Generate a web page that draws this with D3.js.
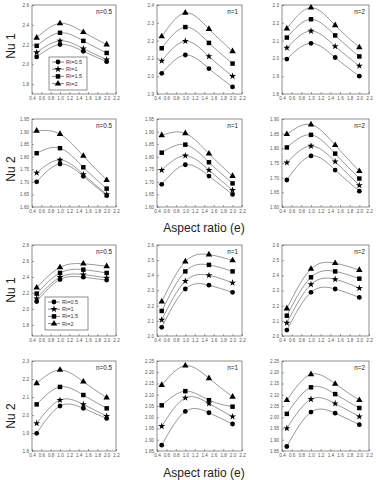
<!DOCTYPE html>
<html><head><meta charset="utf-8">
<script src="https://cdn.jsdelivr.net/npm/d3@7"></script>
<style>body{margin:0;background:#fff}svg{display:block}</style>
</head><body><svg id="c" width="376" height="480"></svg>
<script>
// ---------- data ----------
const aspectRatio = [0.5, 1.0, 1.5, 2.0];
const riLabels = ["Ri=0.5", "Ri=1", "Ri=1.5", "Ri=2"];
const nLabels = ["n=0.5", "n=1", "n=2"];
const rowLabels = ["Nu 1", "Nu 2", "Nu 1", "Nu 2"];
const xTitle = "Aspect ratio (e)";
const xTicks = [0.4, 0.6, 0.8, 1.0, 1.2, 1.4, 1.6, 1.8, 2.0, 2.2];
const xDomain = [0.4, 2.2];

// series order inside each panel: Ri=0.5, Ri=1, Ri=1.5, Ri=2
const nu1A_n05 = [[2.075, 2.200, 2.132, 2.027], [2.120, 2.237, 2.159, 2.047], [2.187, 2.319, 2.237, 2.115], [2.268, 2.414, 2.325, 2.200]];
const nu1A_n1  = [[2.016, 2.119, 2.043, 1.940], [2.086, 2.197, 2.111, 2.000], [2.157, 2.276, 2.187, 2.071], [2.223, 2.356, 2.265, 2.140]];
const nu1A_n2  = [[1.996, 2.085, 2.005, 1.900], [2.059, 2.154, 2.068, 1.958], [2.117, 2.220, 2.129, 2.011], [2.167, 2.285, 2.186, 2.062]];
const nu2A_n05 = [[1.700, 1.771, 1.722, 1.645], [1.736, 1.787, 1.730, 1.650], [1.814, 1.834, 1.758, 1.673], [1.903, 1.890, 1.803, 1.707]];
const nu2A_n1  = [[1.690, 1.768, 1.723, 1.650], [1.747, 1.804, 1.747, 1.667], [1.816, 1.848, 1.778, 1.694], [1.885, 1.893, 1.812, 1.723]];
const nu2A_n2  = [[1.692, 1.774, 1.726, 1.654], [1.751, 1.808, 1.755, 1.674], [1.803, 1.846, 1.782, 1.697], [1.848, 1.881, 1.811, 1.722]];
const nu1B_n05 = [[2.092, 2.368, 2.397, 2.360], [2.129, 2.397, 2.430, 2.388], [2.191, 2.450, 2.491, 2.450], [2.265, 2.520, 2.565, 2.533]];
const nu1B_n1  = [[2.057, 2.310, 2.335, 2.288], [2.106, 2.362, 2.400, 2.351], [2.165, 2.426, 2.469, 2.426], [2.226, 2.491, 2.537, 2.498]];
const nu1B_n2  = [[2.039, 2.288, 2.310, 2.254], [2.086, 2.340, 2.374, 2.315], [2.134, 2.387, 2.426, 2.378], [2.181, 2.442, 2.480, 2.435]];
const nu2B_n05 = [[1.898, 2.050, 2.037, 1.981], [1.954, 2.083, 2.059, 1.994], [2.059, 2.156, 2.111, 2.037], [2.176, 2.250, 2.185, 2.096]];
const nu2B_n1  = [[1.876, 2.026, 2.020, 1.970], [1.960, 2.086, 2.061, 2.003], [2.053, 2.116, 2.076, 2.047], [2.143, 2.229, 2.173, 2.091]];
const nu2B_n2  = [[1.870, 2.023, 2.018, 1.967], [1.951, 2.080, 2.061, 2.003], [2.015, 2.133, 2.103, 2.041], [2.076, 2.191, 2.148, 2.076]];

// y axis limits and tick labels per panel
const yDom = [[1.7, 2.6], [1.9, 2.4], [1.8, 2.3],
              [1.6, 1.95], [1.6, 1.95], [1.6, 1.9],
              [1.66, 2.8], [2.0, 2.6], [2.0, 2.6],
              [1.8, 2.3], [1.85, 2.25], [1.85, 2.25]];
const yTk = [["1.8","2.0","2.2","2.4","2.6"], ["1.9","2.0","2.1","2.2","2.3","2.4"], ["1.8","1.9","2.0","2.1","2.2","2.3"],
             ["1.60","1.65","1.70","1.75","1.80","1.85","1.90","1.95"], ["1.60","1.65","1.70","1.75","1.80","1.85","1.90","1.95"], ["1.60","1.65","1.70","1.75","1.80","1.85","1.90"],
             ["1.8","2.0","2.2","2.4","2.6","2.8"], ["2.0","2.1","2.2","2.3","2.4","2.5","2.6"], ["2.0","2.1","2.2","2.3","2.4","2.5","2.6"],
             ["1.8","1.9","2.0","2.1","2.2","2.3"], ["1.85","1.90","1.95","2.00","2.05","2.10","2.15","2.20","2.25"], ["1.85","1.90","1.95","2.00","2.05","2.10","2.15","2.20","2.25"]];
const panelData = [nu1A_n05, nu1A_n1, nu1A_n2, nu2A_n05, nu2A_n1, nu2A_n2,
                   nu1B_n05, nu1B_n1, nu1B_n2, nu2B_n05, nu2B_n1, nu2B_n2];

// ---------- layout ----------
const colX = [[32, 116], [157, 242], [282, 369]];
const rowY = [[5, 94], [119, 207], [245, 336], [361, 451]];
const svg = d3.select("#c");
const symbols = [d3.symbolCircle, d3.symbolStar, d3.symbolSquare, d3.symbolTriangle];
const symSizes = [18, 15, 20, 18];
const font = "Liberation Sans, Arial, sans-serif";

panelData.forEach((series, i) => {
  const r = Math.floor(i / 3), c = i % 3;
  const [x0, x1] = colX[c], [y0, y1] = rowY[r];
  const x = d3.scaleLinear().domain(xDomain).range([x0, x1]);
  const y = d3.scaleLinear().domain(yDom[i]).range([y1, y0]);
  const g = svg.append("g");

  g.append("rect").attr("x", x0).attr("y", y0).attr("width", x1 - x0).attr("height", y1 - y0)
    .attr("fill", "none").attr("stroke", "#444").attr("stroke-width", 0.6);

  // x axis
  const xa = g.append("g").attr("transform", `translate(0,${y1})`)
    .call(d3.axisBottom(x).tickValues(xTicks).tickSize(-2).tickPadding(3).tickFormat(d3.format(".1f")));
  xa.select(".domain").remove();
  xa.selectAll("line").attr("stroke", "#444").attr("stroke-width", 0.5);
  xa.selectAll("text").attr("font-size", 4.6).attr("font-family", font).attr("fill", "#555");

  // y axis
  const ya = g.append("g").attr("transform", `translate(${x0},0)`)
    .call(d3.axisLeft(y).tickValues(yTk[i].map(Number)).tickSize(-2).tickPadding(3)
      .tickFormat((d, k) => yTk[i][k]));
  ya.select(".domain").remove();
  ya.selectAll("line").attr("stroke", "#444").attr("stroke-width", 0.5);
  ya.selectAll("text").attr("font-size", 4.6).attr("font-family", font).attr("fill", "#555");

  // curves
  const line = d3.line().x((d, k) => x(aspectRatio[k])).y(d => y(d)).curve(d3.curveNatural);
  series.forEach((vals, s) => {
    g.append("path").attr("d", line(vals)).attr("fill", "none")
      .attr("stroke", "#555").attr("stroke-width", 0.6);
    g.selectAll(null).data(vals).enter().append("path")
      .attr("transform", (d, k) => `translate(${x(aspectRatio[k])},${y(d)})`)
      .attr("d", d3.symbol().type(symbols[s]).size(symSizes[s]))
      .attr("fill", "#000");
  });

  // n label
  g.append("text").attr("x", x1 - 4).attr("y", y0 + 9).attr("text-anchor", "end")
    .attr("font-size", 6.3).attr("font-family", font).attr("fill", "#222").text(nLabels[c]);

  // legend
  if (i === 0 || i === 6) {
    const lb = i === 0 ? {x: 49, y: 57, w: 38, h: 33} : {x: 45, y: 297, w: 43, h: 33};
    g.append("rect").attr("x", lb.x).attr("y", lb.y).attr("width", lb.w).attr("height", lb.h)
      .attr("fill", "#fff").attr("stroke", "#444").attr("stroke-width", 0.6);
    riLabels.forEach((lab, s) => {
      const yy = lb.y + 5 + s * 7.2;
      g.append("line").attr("x1", lb.x + 3).attr("x2", lb.x + 15).attr("y1", yy).attr("y2", yy)
        .attr("stroke", "#333").attr("stroke-width", 0.6);
      g.append("path").attr("transform", `translate(${lb.x + 9},${yy})`)
        .attr("d", d3.symbol().type(symbols[s]).size(symSizes[s])).attr("fill", "#000");
      g.append("text").attr("x", lb.x + 17).attr("y", yy + 2).attr("font-size", 5.5)
        .attr("font-family", font).attr("fill", "#333").text(lab);
    });
  }
});

// row y-titles
const rowCenters = [46, 169, 290, 416];
rowLabels.forEach((t, r) => {
  svg.append("text").attr("transform", `translate(15,${rowCenters[r]}) rotate(-90)`)
    .attr("text-anchor", "middle").attr("font-size", 12).attr("font-family", font)
    .attr("fill", "#222").text(t);
});
// x titles
[232, 477].forEach(yy => {
  svg.append("text").attr("x", 204).attr("y", yy).attr("text-anchor", "middle")
    .attr("font-size", 12).attr("font-family", font).attr("fill", "#222").text(xTitle);
});
</script></body></html>
